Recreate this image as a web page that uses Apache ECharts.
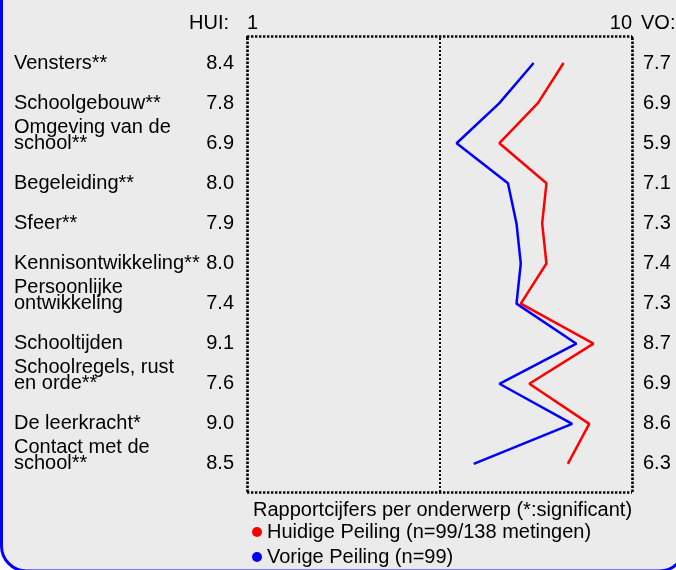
<!DOCTYPE html>
<html>
<head>
<meta charset="utf-8">
<script src="https://cdn.jsdelivr.net/npm/echarts@6/dist/echarts.min.js"></script>
<style>
html,body{margin:0;padding:0;background:#ffffff;}
#chart{width:676px;height:570px;}
</style>
</head>
<body>
<div id="chart"></div>
<script>
const categories = ['Vensters**','Schoolgebouw**','Omgeving van de\nschool**','Begeleiding**','Sfeer**','Kennisontwikkeling**','Persoonlijke\nontwikkeling','Schooltijden','Schoolregels, rust\nen orde**','De leerkracht*','Contact met de\nschool**'];
const huidige = [8.4, 7.8, 6.9, 8.0, 7.9, 8.0, 7.4, 9.1, 7.6, 9.0, 8.5];
const vorige = [7.7, 6.9, 5.9, 7.1, 7.3, 7.4, 7.3, 8.7, 6.9, 8.6, 6.3];
const scaleMin = 1;
const scaleMax = 10;
const midValue = (scaleMin + scaleMax) / 2;
const nameHuidige = 'Huidige Peiling (n=99/138 metingen)';
const nameVorige = 'Vorige Peiling (n=99)';
const titleText = 'Rapportcijfers per onderwerp (*:significant)';

const FONT = '"Liberation Sans", Arial, sans-serif';
const FS = 20;
const dotted = { color: '#000', width: 2, type: [2, 2] };
const frameDotted = { color: '#000', width: 2.6, type: [2.4, 1.6] };

const chart = echarts.init(document.getElementById('chart'), null, { renderer: 'canvas' });

function lastLine(s) { const p = s.split('\n'); return p[p.length - 1]; }
function firstLine(s) { const p = s.split('\n'); return p.length > 1 ? p[0] : ''; }

const option = {
  animation: false,
  backgroundColor: '#ffffff',
  textStyle: { fontFamily: FONT },
  graphic: {
    elements: [
      { type: 'rect', z: -100, silent: true,
        shape: { x: 1.5, y: -30, width: 683, height: 601, r: 25 },
        style: { fill: '#ebebeb', stroke: '#0000ff', lineWidth: 3 } },
      { type: 'text', right: 676 - 229, top: 13,
        style: { text: 'HUI:', font: FS + 'px ' + FONT, fill: '#000' } },
      { type: 'text', left: 641, top: 13,
        style: { text: 'VO:', font: FS + 'px ' + FONT, fill: '#000' } }
    ]
  },
  title: {
    text: titleText, left: 248, top: 495,
    textStyle: { fontFamily: FONT, fontSize: FS, fontWeight: 'normal', color: '#000' }
  },
  legend: {
    data: [nameHuidige, nameVorige],
    orient: 'vertical', left: 252, top: 522,
    icon: 'circle', itemWidth: 10, itemHeight: 10, itemGap: 5,
    padding: 0,
    textStyle: { fontFamily: FONT, fontSize: FS, color: '#000' }
  },
  grid: [
    { left: 247, right: 44, top: 43, height: 441 },
    { left: 247, right: 44, top: 36, bottom: 78 }
  ],
  xAxis: [
    { gridIndex: 0, type: 'value', min: scaleMin, max: scaleMax, show: false },
    { gridIndex: 1, type: 'value', min: scaleMin, max: scaleMax, interval: scaleMax - scaleMin,
      position: 'top',
      axisLine: { show: false, onZero: false },
      axisTick: { show: true, inside: true, length: 4, lineStyle: { color: '#000', width: 2 } },
      splitLine: { show: false },
      axisLabel: { show: true, margin: 3, color: '#000', fontSize: FS, fontFamily: FONT,
        alignMinLabel: 'left', alignMaxLabel: 'right' } }
  ],
  yAxis: [
    { gridIndex: 0, type: 'category', inverse: true, data: categories, position: 'left',
      axisLine: { show: false }, axisTick: { show: false }, splitLine: { show: false },
      axisLabel: { show: true, margin: 13, color: '#000',
        formatter: function (v, i) { return '{a|' + lastLine(v) + '}{b|' + huidige[i].toFixed(1) + '}'; },
        rich: {
          a: { width: 185, align: 'left', fontSize: FS, fontFamily: FONT, color: '#000' },
          b: { width: 35, align: 'right', fontSize: FS, fontFamily: FONT, color: '#000' }
        } } },
    { gridIndex: 0, type: 'category', inverse: true, data: categories, position: 'left', offset: 0,
      axisLine: { show: false }, axisTick: { show: false }, splitLine: { show: false },
      axisLabel: { show: true, margin: 13, color: '#000', padding: [0, 0, 32, 0],
        formatter: function (v) { return '{a|' + firstLine(v) + '}'; },
        rich: { a: { width: 220, align: 'left', fontSize: FS, fontFamily: FONT, color: '#000' } } } },
    { gridIndex: 0, type: 'category', inverse: true, data: categories, position: 'right',
      axisLine: { show: false }, axisTick: { show: false }, splitLine: { show: false },
      axisLabel: { show: true, margin: 11, color: '#000', fontSize: FS, fontFamily: FONT,
        formatter: function (v, i) { return vorige[i].toFixed(1); } } },
    { gridIndex: 1, type: 'value', min: 0, max: 1, show: false }
  ],
  series: [
    { name: 'frame', type: 'line', xAxisIndex: 1, yAxisIndex: 3, data: [], silent: true, clip: false,
      markLine: { silent: true, symbol: 'none', label: { show: false },
        lineStyle: frameDotted,
        data: [
          { xAxis: scaleMin }, { xAxis: scaleMax }, { yAxis: 0 }, { yAxis: 1 },
          { xAxis: midValue, lineStyle: dotted }
        ] } },
    { name: nameVorige, type: 'line', xAxisIndex: 0, yAxisIndex: 0, data: vorige,
      symbol: 'none', color: '#0000ff', lineStyle: { color: '#0000ff', width: 2.5 } },
    { name: nameHuidige, type: 'line', xAxisIndex: 0, yAxisIndex: 0, data: huidige,
      symbol: 'none', color: '#ff0000', lineStyle: { color: '#ff0000', width: 2.5 } }
  ]
};
chart.setOption(option);
</script>
</body>
</html>
